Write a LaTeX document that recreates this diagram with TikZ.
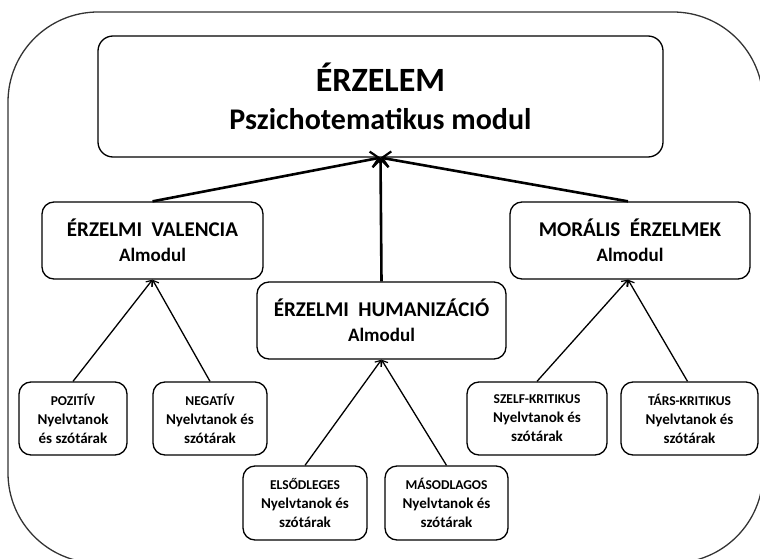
\documentclass[tikz,border=0pt]{standalone}
\usepackage{fontspec}
\setmainfont{Carlito}
\usetikzlibrary{arrows.meta}
\begin{document}
\begin{tikzpicture}[x=1pt,y=-1pt,
  box/.style={draw, rounded corners=12pt, line width=1.3pt, align=center, inner sep=0pt},
  bigbox/.style={box, minimum width=565pt, minimum height=121pt, rounded corners=15pt, font=\bfseries\fontsize{30}{38}\selectfont},
  midbox/.style={box, minimum height=77pt, font=\bfseries\fontsize{19}{25}\selectfont},
  smallbox/.style={box, minimum height=73pt, font=\bfseries\fontsize{15}{19}\selectfont},
  thick arrow/.style={line width=2.6pt, -{Straight Barb[length=8pt,width=16pt,line width=2.2pt]}},
  thin arrow/.style={line width=1.3pt, -{Straight Barb[length=5pt,width=8pt,line width=1.2pt]}},
]
\useasboundingbox (0,0) rectangle (760,559);
\clip (0,0) rectangle (760,559);
\draw[line width=1.3pt, black!80, rounded corners=90pt] (8,12) rectangle (763,563);

\node[bigbox] (top) at (380.5,96.5) {{\fontsize{34}{38}\selectfont ÉRZELEM}\\Pszichotematikus modul};

\node[midbox, minimum width=221pt] (val) at (152.5,240.5) {{\fontsize{21}{25}\selectfont ÉRZELMI~ VALENCIA}\\Almodul};
\node[midbox, minimum width=240pt] (mor) at (630,240.5) {{\fontsize{21}{25}\selectfont MORÁLIS~ ÉRZELMEK}\\Almodul};
\node[midbox, minimum width=249pt] (hum) at (381.5,320.5) {{\fontsize{21}{25}\selectfont ÉRZELMI~ HUMANIZÁCIÓ}\\Almodul};

\node[smallbox, minimum width=108pt] (poz) at (73,418.5) {{\fontsize{13.5}{19}\selectfont POZITÍV}\\Nyelvtanok\\és szótárak};
\node[smallbox, minimum width=114pt] (neg) at (210,418.5) {{\fontsize{13.5}{19}\selectfont NEGATÍV}\\Nyelvtanok és\\szótárak};
\node[smallbox, minimum width=140pt] (szelf) at (537,418.5) {{\fontsize{13.5}{19}\selectfont SZELF-KRITIKUS}\\Nyelvtanok és\\szótárak};
\node[smallbox, minimum width=137pt] (tars) at (689.5,418.5) {{\fontsize{13.5}{19}\selectfont TÁRS-KRITIKUS}\\Nyelvtanok és\\szótárak};
\node[smallbox, minimum width=124pt, minimum height=74pt] (els) at (305,503) {{\fontsize{13.5}{19}\selectfont ELSŐDLEGES}\\Nyelvtanok és\\szótárak};
\node[smallbox, minimum width=123pt, minimum height=74pt] (mas) at (446.5,503) {{\fontsize{13.5}{19}\selectfont MÁSODLAGOS}\\Nyelvtanok és\\szótárak};

\draw[thick arrow] (val.north) -- (top.south);
\draw[thick arrow] (hum.north) -- (top.south);
\draw[thick arrow] ([xshift=-2pt]mor.north) -- (top.south);

\draw[thin arrow] (poz.north) -- (val.south);
\draw[thin arrow] (neg.north) -- (val.south);
\draw[thin arrow] (szelf.north) -- ([xshift=-2pt]mor.south);
\draw[thin arrow] ([xshift=-2pt]tars.north) -- ([xshift=-2pt]mor.south);
\draw[thin arrow] (els.north) -- (hum.south);
\draw[thin arrow] (mas.north) -- (hum.south);
\end{tikzpicture}
\end{document}
